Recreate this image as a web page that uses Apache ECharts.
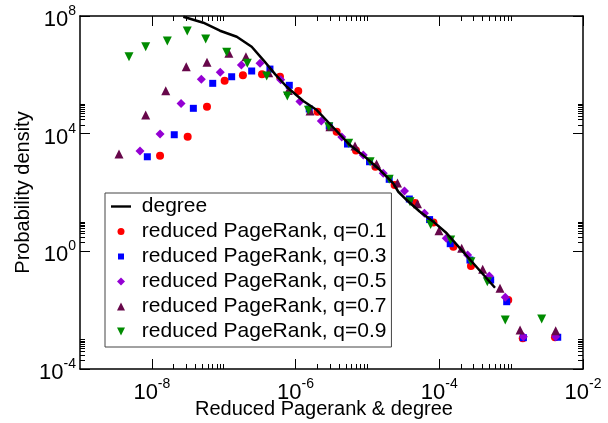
<!DOCTYPE html>
<html>
<head>
<meta charset="utf-8">
<script src="https://cdn.jsdelivr.net/npm/echarts@6/dist/echarts.min.js"></script>
<style>
  html, body { margin: 0; padding: 0; background: #fff; }
  #chart { width: 608px; height: 423px; }
</style>
</head>
<body>
<div id="chart"></div>
<script>
// [x, y] pairs
const degree = [
  [2.74e-8, 9.44e7], [5.2e-8, 5.9e7], [8.87e-8, 3.16e7], [1.52e-7, 1.97e7], [2.45e-7, 9.02e6],
  [3.56e-7, 3.18e6], [5.18e-7, 1.06e6], [7.52e-7, 3.94e5], [1.28e-6, 1.29e5], [1.97e-6, 6.36e4],
  [3.01e-6, 2.13e4], [5.71e-6, 4.11e3], [9.77e-6, 1.45e3], [1.5e-5, 581], [2.29e-5, 205],
  [2.69e-5, 106], [3.52e-5, 55.5], [5.38e-5, 22.2], [8.26e-5, 10.2], [1.27e-4, 4.1],
  [2.67e-4, 0.527], [5.96e-4, 0.058]
]
const q01 = [
  [1.3e-8, 1.78e3], [3.15e-8, 7.87e3], [5.85e-8, 8.24e4], [1.03e-7, 6.3e5], [1.85e-7, 9.6e5],
  [3.41e-7, 1.04e6], [6.07e-7, 8.6e5], [1.09e-6, 2.81e5], [2.02e-6, 5.57e4], [3.73e-6, 1.16e4],
  [6.93e-6, 2.67e3], [1.29e-5, 752], [2.39e-5, 180], [4.59e-5, 43.9], [8.3e-5, 9.5],
  [1.57e-4, 1.44], [2.76e-4, 0.317], [5.08e-4, 0.112], [9.12e-4, 0.0221], [1.45e-3, 1.1e-3],
  [4.07e-3, 1.2e-3]
]
const q03 = [
  [8.65e-9, 1.64e3], [2.05e-8, 9.2e3], [3.78e-8, 7.27e4], [7.03e-8, 5.14e5], [1.29e-7, 8.61e5],
  [2.45e-7, 1.35e6], [4.4e-7, 1.57e6], [8.18e-7, 4.4e5], [1.55e-6, 6.88e4], [2.94e-6, 1.82e4],
  [5.28e-6, 4.44e3], [1.07e-5, 1.11e3], [2.01e-5, 281], [3.83e-5, 60], [7.33e-5, 12.0],
  [1.42e-4, 1.82], [2.67e-4, 0.507], [5.19e-4, 0.106], [8.67e-4, 0.0194], [1.48e-3, 1.16e-3],
  [4.45e-3, 1.2e-3]
]
const q05 = [
  [6.84e-9, 2.57e3], [1.3e-8, 9.72e3], [2.55e-8, 1.07e5], [4.88e-8, 7.03e5], [8.95e-8, 1.22e6],
  [1.76e-7, 2.15e6], [3.2e-7, 2.46e6], [6.21e-7, 6.81e5], [1.15e-6, 1.24e5], [2.28e-6, 2.69e4],
  [4.39e-6, 7.69e3], [8.75e-6, 1.88e3], [1.66e-5, 449], [3.28e-5, 112], [6.22e-5, 19.6],
  [1.25e-4, 2.77], [2.48e-4, 0.75], [4.97e-4, 0.145], [8.28e-4, 0.0274], [1.48e-3, 1.25e-3],
  [4.17e-3, 1.25e-3]
]
const q07 = [
  [3.49e-9, 2.03e3], [8.2e-9, 4.3e4], [1.56e-8, 2.88e5], [3.01e-8, 1.88e6], [5.85e-8, 2.66e6],
  [1.18e-7, 5.38e6], [2.04e-7, 4.12e6], [4.23e-7, 1.18e6], [7.93e-7, 2.93e5], [1.59e-6, 5.88e4],
  [3.01e-6, 1.72e4], [6.71e-6, 3.8e3], [1.34e-5, 929], [2.62e-5, 210], [4.98e-5, 41.6],
  [9.9e-5, 4.98], [2.05e-4, 1.27], [4.02e-4, 0.245], [7.0e-4, 0.0553], [1.33e-3, 2.12e-3],
  [4.17e-3, 2.0e-3]
]
const q09 = [
  [4.81e-9, 4.12e6], [8.2e-9, 9.0e6], [1.64e-8, 1.41e7], [3.11e-8, 3.08e7], [5.61e-8, 1.65e7],
  [1.1e-7, 5.82e6], [2.13e-7, 2.46e6], [3.96e-7, 9.1e5], [7.67e-7, 1.9e5], [1.51e-6, 6.21e4],
  [2.9e-6, 1.72e4], [5.48e-6, 4.7e3], [1.09e-5, 1.11e3], [2.01e-5, 281], [3.91e-5, 48.6],
  [7.58e-5, 8.16], [1.44e-4, 2.43], [2.76e-4, 0.444], [4.66e-4, 0.0927], [8.28e-4, 4.63e-3],
  [2.66e-3, 5.0e-3]
]

// tick positions
const xMajor = [1e-8, 1e-6, 1e-4, 1e-2]
const xMinor = [
  2e-8, 3e-8, 4e-8, 5e-8, 6e-8, 7e-8, 8e-8, 9e-8, 1e-7,
  2e-6, 3e-6, 4e-6, 5e-6, 6e-6, 7e-6, 8e-6, 9e-6, 1e-5,
  2e-4, 3e-4, 4e-4, 5e-4, 6e-4, 7e-4, 8e-4, 9e-4, 1e-3
]
const yMajor = [1e-4, 1, 1e4, 1e8]
const yMinor = [
  2e-4, 3e-4, 4e-4, 5e-4, 6e-4, 7e-4, 8e-4, 9e-4, 1e-3,
  2, 3, 4, 5, 6, 7, 8, 9, 10,
  2e4, 3e4, 4e4, 5e4, 6e4, 7e4, 8e4, 9e4, 1e5
]

const font = '"Liberation Sans", Arial, sans-serif'
const powRich = {
  b: { fontSize: 22, fontFamily: font, color: '#000', padding: [8, 0, 0, 0] },
  s: { fontSize: 14, fontFamily: font, color: '#000', padding: [0, 0, 10, 0] }
}
const powLabel = v => '{b|10}{s|' + Math.round(Math.log10(v)) + '}'

const tickAxis = (min, max, position, ticks, len, extra) => Object.assign({
  type: 'log',
  logBase: 10,
  min: min,
  max: max,
  position: position,
  axisLine: { show: false },
  axisTick: { show: true, inside: true, length: len, customValues: ticks, lineStyle: { color: '#000', width: 1 } },
  axisLabel: { show: false },
  splitLine: { show: false },
  minorTick: { show: false }
}, extra)

const lineOn = { show: true, lineStyle: { color: '#000', width: 1.5 } }

const xAxes = [
  tickAxis(1e-9, 1e-2, 'bottom', xMajor, 10, {
    axisLine: lineOn,
    axisLabel: { show: true, customValues: xMajor, margin: 5, formatter: powLabel, rich: powRich },
    name: 'Reduced Pagerank & degree',
    nameLocation: 'middle',
    nameGap: 30,
    nameMoveOverlap: false,
    nameTextStyle: { fontSize: 20, fontFamily: font, color: '#000', padding: [0, 15, 0, 0] }
  }),
  tickAxis(1e-9, 1e-2, 'bottom', xMinor, 5),
  tickAxis(1e-9, 1e-2, 'top', xMajor, 10, { axisLine: lineOn }),
  tickAxis(1e-9, 1e-2, 'top', xMinor, 5)
]
const yAxes = [
  tickAxis(1e-4, 1e8, 'left', yMajor, 10, {
    axisLine: lineOn,
    axisLabel: { show: true, customValues: yMajor, margin: 4, formatter: powLabel, rich: powRich },
    name: 'Probability density',
    nameLocation: 'middle',
    nameGap: 47,
    nameMoveOverlap: false,
    nameTextStyle: { fontSize: 20, fontFamily: font, color: '#000' }
  }),
  tickAxis(1e-4, 1e8, 'left', yMinor, 5),
  tickAxis(1e-4, 1e8, 'right', yMajor, 10, { axisLine: lineOn }),
  tickAxis(1e-4, 1e8, 'right', yMinor, 5)
]

const scatter = (name, data, color, symbol, size, rotate) => ({
  name: name,
  type: 'scatter',
  data: data,
  symbol: symbol,
  symbolSize: size,
  symbolRotate: rotate || 0,
  itemStyle: { color: color, opacity: 1 }
})

const names = ['degree', 'reduced PageRank, q=0.1', 'reduced PageRank, q=0.3',
  'reduced PageRank, q=0.5', 'reduced PageRank, q=0.7', 'reduced PageRank, q=0.9']

// legend icons drawn inside a 20x8 box so they keep their shape
const box = 'path://M0,0M20,8'
const icons = [
  box + 'M0,2.8L20,2.8L20,5.2L0,5.2Z',
  box + 'M13.5,4A3.5,3.5,0,1,1,6.5,4A3.5,3.5,0,1,1,13.5,4Z',
  box + 'M7,1L13,1L13,7L7,7Z',
  box + 'M10,0L14,4L10,8L6,4Z',
  box + 'M10,0L14,8L6,8Z',
  box + 'M6,0L14,0L10,8Z'
]

const myChart = echarts.init(document.getElementById('chart'))
myChart.setOption({
  animation: false,
  backgroundColor: '#fff',
  grid: { left: 80, right: 25, top: 16, bottom: 54, containLabel: false, outerBoundsMode: 'none' },
  xAxis: xAxes,
  yAxis: yAxes,
  legend: {
    orient: 'vertical',
    left: 105,
    top: 193,
    padding: [3, 5, 5, 6],
    itemGap: 4,
    itemWidth: 20,
    itemHeight: 8,
    symbolRotate: 0,
    backgroundColor: '#fff',
    borderColor: '#444',
    borderWidth: 1,
    borderRadius: 0,
    formatter: name => ' ' + name,
    textStyle: { fontSize: 21, fontFamily: font, color: '#000' },
    data: names.map((n, i) => ({ name: n, icon: icons[i] }))
  },
  series: [
    {
      name: names[0],
      type: 'line',
      data: degree,
      symbol: 'none',
      lineStyle: { color: '#000', width: 2.5 },
      itemStyle: { color: '#000' }
    },
    scatter(names[1], q01, '#ff0000', 'circle', 8),
    scatter(names[2], q03, '#0000ff', 'rect', 7),
    scatter(names[3], q05, '#9400d3', 'diamond', 9),
    scatter(names[4], q07, '#67074a', 'triangle', 9),
    scatter(names[5], q09, '#008b00', 'triangle', 9, 180)
  ]
})

window.addEventListener('resize', () => {
  myChart.resize()
})
</script>
</body>
</html>
